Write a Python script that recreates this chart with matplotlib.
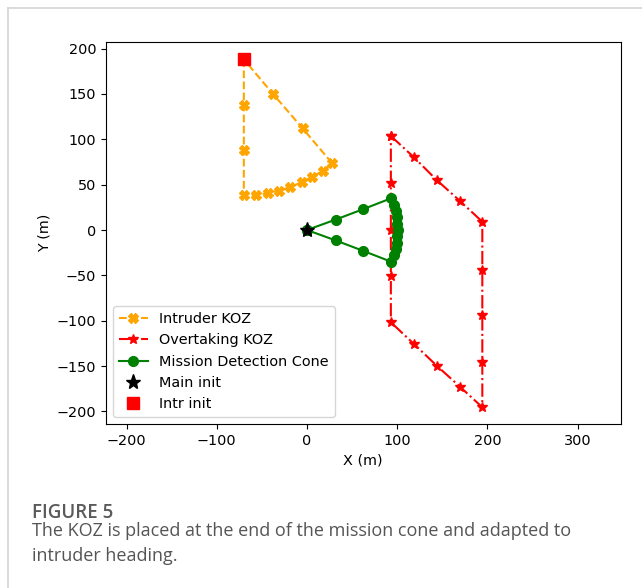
import matplotlib.pyplot as plt
from matplotlib.lines import Line2D

# === Intruder keep-out zone (sector around intruder start) ===
intr_x = [-70, -70, -70, -70, -56.5, -43, -30.7, -18.5, -5.9, 5.5, 17.4, 28, -4.8, -37.7, -70]
intr_y = [188, 138, 88, 38.5, 38.5, 41, 43.3, 47.4, 52.6, 58.7, 65, 73.5, 112, 150, 188]

# === Overtaking keep-out zone ===
over_x = [93, 118.6, 143.8, 169.6, 194.4, 194.4, 194.4, 194.4, 194.4,
          169.6, 143.8, 118.6, 93, 93, 93, 93, 93]
over_y = [103.6, 80.1, 55.1, 32, 9.1, -44.1, -93.7, -145.1, -195.4,
          -172.7, -149.5, -125.6, -101.7, -50.4, 0, 51.5, 103.6]

# === Mission detection cone ===
cone_x = [0, 31.8, 62.4, 93.4, 96.2, 98.2, 99.4, 100.1, 100.4,
          100.1, 99.4, 98.2, 96.2, 93.4, 62.4, 31.8, 0]
cone_y = [0, 11.5, 23, 35, 28, 21, 14, 7, 0,
          -7, -14, -21, -28, -35, -23, -11.5, 0]

main_init = (0, 0)
intr_init = (-70, 188)

xticks = [-200, -100, 0, 100, 200, 300]
yticks = [-200, -150, -100, -50, 0, 50, 100, 150, 200]

plt.rcParams['font.size'] = 10.4

fig = plt.figure(figsize=(6.42, 5.88), dpi=100)
ax = fig.add_axes([106 / 642, 1 - 424 / 588, 514.5 / 642, 382 / 588])

ax.plot(intr_x, intr_y, '--', color='orange', marker='X', markersize=6.5,
        linewidth=1.5, label='Intruder KOZ')
ax.plot(over_x, over_y, '-.', color='red', marker='*', markersize=7,
        linewidth=1.5, label='Overtaking KOZ')
ax.plot(cone_x, cone_y, '-', color='green', marker='o', markersize=7,
        linewidth=1.5, label='Mission Detection Cone')
ax.plot(*main_init, '*', color='black', markersize=11, linestyle='none', label='Main init')
ax.plot(*intr_init, 's', color='red', markersize=8, linestyle='none', label='Intr init')

ax.set_xlim(-222.8, 347.6)
ax.set_ylim(-213.8, 207.2)
ax.set_xticks(xticks)
ax.set_yticks(yticks)
ax.set_xlabel('X (m)')
ax.set_ylabel('Y (m)')
ax.legend(loc='lower left')

# page frame lines
fig.add_artist(Line2D([7.5 / 642, 7.5 / 642], [0, 1 - 7.5 / 588],
                      transform=fig.transFigure, color='#d4d4d4', linewidth=1.2))
fig.add_artist(Line2D([7.5 / 642, 1], [1 - 7.5 / 588, 1 - 7.5 / 588],
                      transform=fig.transFigure, color='#d4d4d4', linewidth=1.2))

# caption
fig.text(32 / 642, 1 - 518 / 588, 'FIGURE 5', family='Open Sans', fontsize=13.5,
         fontweight='semibold', color='#5a5a5a')
fig.text(32 / 642, 1 - 536 / 588, 'The KOZ is placed at the end of the mission cone and adapted to',
         family='Open Sans', fontsize=13, color='#555555')
fig.text(32 / 642, 1 - 561 / 588, 'intruder heading.',
         family='Open Sans', fontsize=13, color='#555555')

fig.savefig('out.png', dpi=100)
